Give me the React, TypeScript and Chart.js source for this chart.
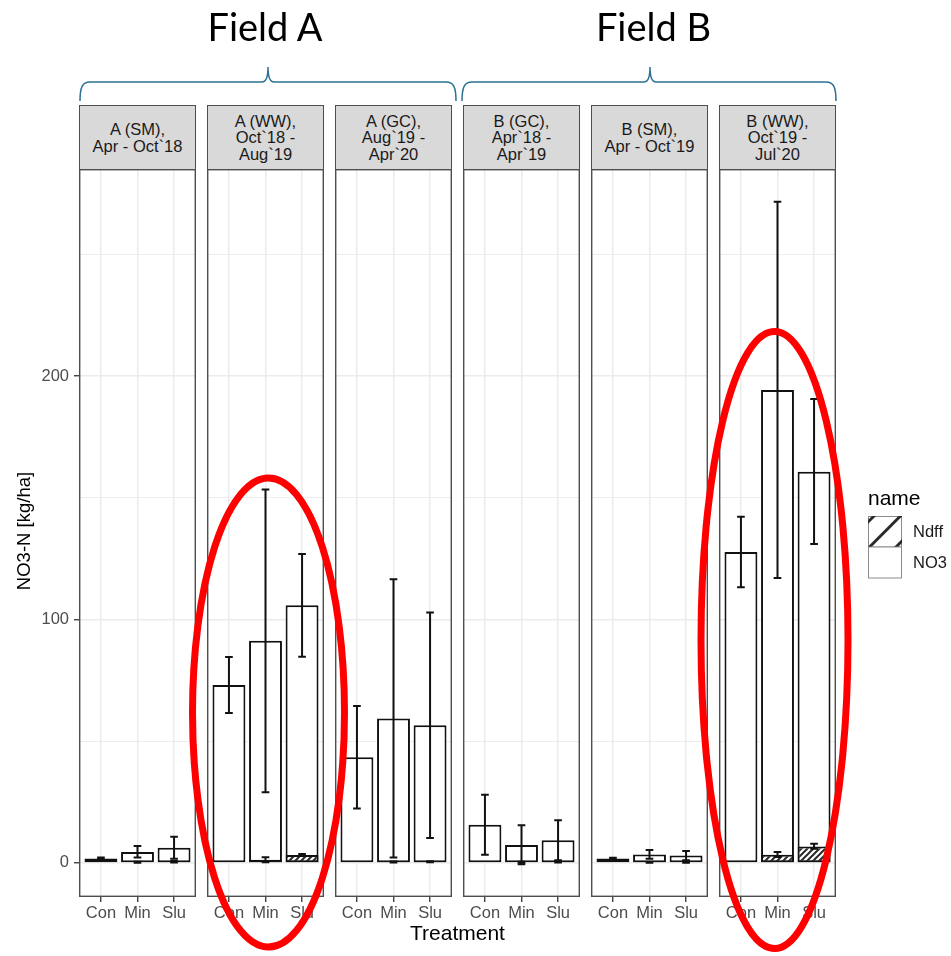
import React, { useEffect, useRef } from 'react';
import { Chart, registerables } from 'chart.js';

Chart.register(...registerables);

const FONT = "'Liberation Sans', Arial, Helvetica, sans-serif";

// ---------- data ----------
const treatments = ['Con', 'Min', 'Slu'];
const facetLabels = [
  ['A (SM),', 'Apr - Oct`18'],
  ['A (WW),', 'Oct`18 -', 'Aug`19'],
  ['A (GC),', 'Aug`19 -', 'Apr`20'],
  ['B (GC),', 'Apr`18 -', 'Apr`19'],
  ['B (SM),', 'Apr - Oct`19'],
  ['B (WW),', 'Oct`19 -', 'Jul`20'],
];
const fieldLabels = ['Field A', 'Field B'];
const seriesNames = ['Ndff', 'NO3'];

const no3Mean = [
  [1.8, 4.5, 6.2],
  [73.1, 91.2, 105.8],
  [43.4, 59.3, 56.5],
  [15.7, 7.4, 9.3],
  [1.8, 3.5, 3.0],
  [127.7, 194.2, 160.7],
];
const no3Low = [
  [1.4, 2.2, 1.7],
  [61.6, 29.0, 84.7],
  [22.3, 2.2, 10.2],
  [3.4, -0.6, 1.1],
  [1.5, 1.7, 1.1],
  [113.2, 117.0, 131.0],
];
const no3High = [
  [2.2, 6.9, 10.7],
  [84.6, 153.4, 126.9],
  [64.4, 116.5, 102.8],
  [28.0, 15.5, 17.5],
  [2.1, 5.3, 4.9],
  [142.2, 271.5, 190.5],
];
const ndffMean = [
  [null, 0.3, 0.5],
  [null, 1.3, 3.3],
  [null, 0.4, 0.5],
  [null, 0.3, 0.5],
  [null, 0.2, 0.3],
  [null, 3.4, 6.7],
];
const ndffLow = [
  [null, 0.1, 0.2],
  [null, 0.3, 2.9],
  [null, 0.2, 0.3],
  [null, 0.1, 0.2],
  [null, 0.1, 0.1],
  [null, 2.4, 5.8],
];
const ndffHigh = [
  [null, 0.5, 0.8],
  [null, 2.3, 3.7],
  [null, 0.6, 0.7],
  [null, 0.5, 0.8],
  [null, 0.3, 0.5],
  [null, 4.5, 7.9],
];
const yMajorTicks = [0, 100, 200];
const yMinorTicks = [50, 150, 250];
const yRange = [-14, 285];

// ---------- layout ----------
const PANEL_TOP = 169;
const PANEL_H = 728;
const PANEL_W = 117;
const PANEL_LEFT0 = 79;
const PITCH = 128;
const YAXIS_W = 79;
const XAXIS_H = 30;
const ERR_HALF = 0.105;

function makeHatch(ctx: CanvasRenderingContext2D, s: number, lw: number) {
  const c = document.createElement('canvas');
  c.width = s;
  c.height = s;
  const g = c.getContext('2d')!;
  g.fillStyle = '#ffffff';
  g.fillRect(0, 0, s, s);
  g.strokeStyle = '#2a2a2a';
  g.lineWidth = lw;
  g.beginPath();
  g.moveTo(-1, s + 1);
  g.lineTo(s + 1, -1);
  g.moveTo(-2, 2);
  g.lineTo(2, -2);
  g.moveTo(s - 2, s + 2);
  g.lineTo(s + 2, s - 2);
  g.stroke();
  return ctx.createPattern(c, 'repeat')!;
}

function Panel({ index }: { index: number }) {
  const ref = useRef<HTMLCanvasElement>(null);
  const first = index === 0;
  useEffect(() => {
    const canvas = ref.current!;
    const ctx = canvas.getContext('2d')!;
    const hatch = makeHatch(ctx, 6, 2);

    const errorBars = {
      id: 'errorBars',
      afterDatasetsDraw(chart: any) {
        const { ctx: c, scales } = chart;
        const xs = scales.x;
        const ys = scales.y;
        c.save();
        c.strokeStyle = '#111111';
        c.lineWidth = 2;
        const draw = (lo: (number | null)[], hi: (number | null)[]) => {
          lo.forEach((l, j) => {
            const h = hi[j];
            if (l == null || h == null) return;
            const px = xs.getPixelForValue(j + 1);
            const hw = xs.getPixelForValue(j + 1 + ERR_HALF) - px;
            const y1 = ys.getPixelForValue(l);
            const y2 = ys.getPixelForValue(h);
            c.beginPath();
            c.moveTo(px, y1);
            c.lineTo(px, y2);
            c.moveTo(px - hw, y1);
            c.lineTo(px + hw, y1);
            c.moveTo(px - hw, y2);
            c.lineTo(px + hw, y2);
            c.stroke();
          });
        };
        draw(no3Low[index], no3High[index]);
        draw(ndffLow[index], ndffHigh[index]);
        c.restore();
      },
      afterDraw(chart: any) {
        const { ctx: c, chartArea: a } = chart;
        c.save();
        c.strokeStyle = '#4d4d4d';
        c.lineWidth = 1.4;
        c.strokeRect(a.left + 0.7, a.top + 0.7, a.right - a.left - 1.4, a.bottom - a.top - 1.4);
        c.restore();
      },
    };

    const toPoints = (arr: (number | null)[]) =>
      arr.map((v, j) => (v == null ? null : { x: j + 1, y: v })).filter((p) => p !== null);

    const chart = new Chart(canvas, {
      type: 'bar',
      data: {
        datasets: [
          {
            label: seriesNames[0],
            data: toPoints(ndffMean[index]) as any,
            backgroundColor: hatch as any,
            borderColor: '#111111',
            borderWidth: 2,
            borderSkipped: false,
            grouped: false,
            barPercentage: 0.9,
            categoryPercentage: 1,
          },
          {
            label: seriesNames[1],
            data: toPoints(no3Mean[index]) as any,
            backgroundColor: '#ffffff',
            borderColor: '#111111',
            borderWidth: 2,
            borderSkipped: false,
            grouped: false,
            barPercentage: 0.9,
            categoryPercentage: 1,
          },
        ],
      },
      options: {
        animation: false,
        responsive: false,
        maintainAspectRatio: false,
        layout: { padding: 0 },
        plugins: {
          legend: { display: false },
          tooltip: { enabled: false },
          title: { display: false },
        },
        scales: {
          x: {
            type: 'linear',
            min: 0.4,
            max: 3.6,
            offset: false,
            afterBuildTicks: (s: any) => {
              s.ticks = treatments.map((_, j) => ({ value: j + 1 }));
            },
            afterFit: (s: any) => {
              s.height = XAXIS_H;
              s.paddingLeft = 0;
              s.paddingRight = 0;
            },
            ticks: {
              callback: (v: any) => treatments[Math.round(v) - 1] ?? '',
              color: '#4d4d4d',
              font: { family: FONT, size: 16.5 },
              padding: 2,
              maxRotation: 0,
              autoSkip: false,
            },
            grid: {
              offset: false,
              color: '#ebebeb',
              lineWidth: 1.5,
              tickColor: '#333333',
              tickLength: 5,
              tickWidth: 1.3,
            },
            border: { display: false },
          },
          y: {
            type: 'linear',
            min: yRange[0],
            max: yRange[1],
            afterBuildTicks: (s: any) => {
              s.ticks = [...yMajorTicks, ...yMinorTicks].sort((a, b) => a - b).map((v) => ({ value: v }));
            },
            afterFit: (s: any) => {
              s.width = first ? YAXIS_W : 0;
              s.paddingTop = 0;
              s.paddingBottom = 0;
            },
            ticks: {
              display: first,
              callback: (v: any) => (yMajorTicks.includes(v) ? String(v) : ''),
              color: '#4d4d4d',
              font: { family: FONT, size: 16.5 },
              padding: 5,
            },
            grid: {
              color: '#ebebeb',
              lineWidth: (c: any) => (yMajorTicks.includes(c.tick?.value) ? 1.5 : 0.9),
              tickColor: (c: any) => (yMajorTicks.includes(c.tick?.value) ? '#333333' : 'rgba(0,0,0,0)'),
              drawTicks: first,
              tickLength: 5,
              tickWidth: 1.3,
            },
            border: { display: false },
          },
        },
      } as any,
      plugins: [errorBars],
    });
    return () => chart.destroy();
  }, [index, first]);

  const left = first ? 0 : PANEL_LEFT0 + index * PITCH;
  const width = first ? YAXIS_W + PANEL_W : PANEL_W;
  const height = PANEL_H + XAXIS_H;
  return (
    <canvas
      ref={ref}
      width={width}
      height={height}
      style={{ position: 'absolute', left, top: PANEL_TOP, width, height }}
    />
  );
}

function Brace({ x1, x2, xm }: { x1: number; x2: number; xm: number }) {
  const yb = 101;
  const yh = 82;
  const yt = 67;
  const d = `M${x1},${yb} C${x1},${yh + 6} ${x1 + 2},${yh} ${x1 + 10},${yh} L${xm - 6},${yh} C${xm - 2},${yh} ${xm},${yh - 4} ${xm},${yt} C${xm},${yh - 4} ${xm + 2},${yh} ${xm + 6},${yh} L${x2 - 10},${yh} C${x2 - 2},${yh} ${x2},${yh + 6} ${x2},${yb}`;
  return <path d={d} fill="none" stroke="#2c7194" strokeWidth={1.5} />;
}

export default function App() {
  useEffect(() => {
    document.body.style.margin = '0';
  }, []);

  return (
    <div
      style={{
        position: 'absolute',
        left: 0,
        top: 0,
        width: 951,
        height: 956,
        overflow: 'hidden',
        background: '#ffffff',
        fontFamily: FONT,
      }}
    >
      {facetLabels.map((lines, i) => (
        <div
          key={'strip' + i}
          style={{
            position: 'absolute',
            left: PANEL_LEFT0 + i * PITCH,
            top: 105,
            width: PANEL_W,
            height: 65,
            boxSizing: 'border-box',
            border: '1.4px solid #4d4d4d',
            background: '#d9d9d9',
            display: 'flex',
            flexDirection: 'column',
            justifyContent: 'center',
            alignItems: 'center',
            fontSize: 16.5,
            lineHeight: '16.5px',
            color: '#1a1a1a',
            textAlign: 'center',
            whiteSpace: 'pre',
          }}
        >
          {lines.map((l, k) => (
            <div key={k}>{l}</div>
          ))}
        </div>
      ))}
      {facetLabels.map((_, i) => (
        <Panel key={'panel' + i} index={i} />
      ))}
      <svg
        width={951}
        height={956}
        style={{ position: 'absolute', left: 0, top: 0, pointerEvents: 'none' }}
      >
        <text x={265} y={41} textAnchor="middle" fontFamily="Lato, 'Open Sans', sans-serif" fontSize={38} fill="#000">
          {fieldLabels[0]}
        </text>
        <text x={653.5} y={41} textAnchor="middle" fontFamily="Lato, 'Open Sans', sans-serif" fontSize={38} fill="#000">
          {fieldLabels[1]}
        </text>
        <Brace x1={80} x2={456} xm={268} />
        <Brace x1={462} x2={836} xm={650} />

        <text x={457.5} y={940} textAnchor="middle" fontFamily={FONT} fontSize={21} fill="#000">
          Treatment
        </text>
        <text transform="translate(30,531) rotate(-90)" textAnchor="middle" fontFamily={FONT} fontSize={18.5} fill="#000">
          NO3-N [kg/ha]
        </text>

        {/* legend */}
        <text x={868} y={505} fontFamily={FONT} fontSize={21} fill="#000">
          name
        </text>
        <defs>
          <clipPath id="keyclip">
            <rect x={868} y={516} width={34} height={31} />
          </clipPath>
        </defs>
        <rect x={868.5} y={516.5} width={33} height={30.5} fill="#fff" stroke="#8c8c8c" strokeWidth={1} />
        <g clipPath="url(#keyclip)" stroke="#2a2a2a" strokeWidth={3}>
          <line x1={850} y1={540} x2={890} y2={500} />
          <line x1={866} y1={550.5} x2={906} y2={510.5} />
          <line x1={892} y1={551} x2={932} y2={511} />
        </g>
        <rect x={868.5} y={547} width={33} height={31} fill="#fff" stroke="#8c8c8c" strokeWidth={1} />
        <text x={913} y={537} fontFamily={FONT} fontSize={16.5} fill="#1a1a1a">
          {seriesNames[0]}
        </text>
        <text x={913} y={568} fontFamily={FONT} fontSize={16.5} fill="#1a1a1a">
          {seriesNames[1]}
        </text>

        <ellipse cx={268.5} cy={712.5} rx={76} ry={234.5} fill="none" stroke="#ff0000" strokeWidth={7} />
        <ellipse cx={774.5} cy={640} rx={73.5} ry={308.5} fill="none" stroke="#ff0000" strokeWidth={7} />
      </svg>
    </div>
  );
}
